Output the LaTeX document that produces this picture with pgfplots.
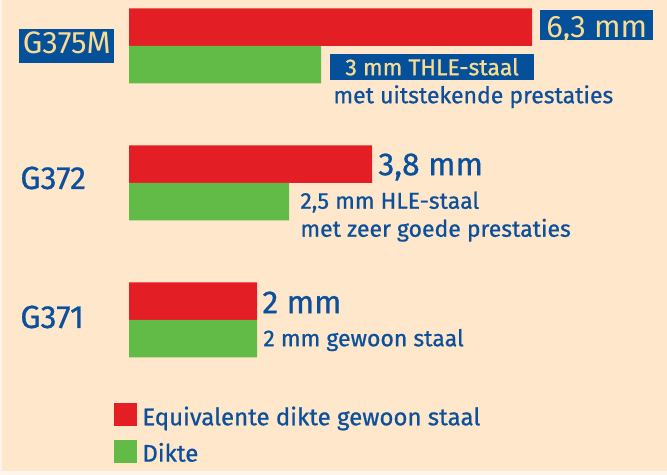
\documentclass[border=0pt]{standalone}
\usepackage{pgfplots}
\pgfplotsset{compat=1.18}
\usepackage{fontspec}
\setmainfont{Fira Sans}
\newfontfamily\medfont{Fira Sans}[FakeBold=0.8]
\definecolor{bgpeach}{RGB}{254,231,203}
\definecolor{edgec}{RGB}{255,245,235}
\definecolor{barred}{RGB}{227,30,36}
\definecolor{bargreen}{RGB}{98,187,70}
\definecolor{txtblue}{RGB}{12,80,155}
\definecolor{boxblue}{RGB}{4,80,155}
\definecolor{boxtxt}{RGB}{250,220,145}
\newcommand\bigf{\fontsize{16}{18}\selectfont}
\newcommand\boxf{\fontsize{15.5}{18}\selectfont}
\newcommand\labf{\fontsize{16}{18}\selectfont}
\newcommand\smallf{\medfont\fontsize{11.5}{14}\selectfont}
\begin{document}
\begin{tikzpicture}
\begin{axis}[
  x=32pt, y=68.5pt,
  xmin=-2.015625, xmax=8.40625,
  ymin=-1.13139, ymax=2.33577,
  axis line style={draw=none},
  xtick=\empty, ytick=\empty,
  axis background/.style={fill=bgpeach},
  clip=false,
  xbar, bar width=18.75pt,
  legend style={at={(axis cs:-0.234,-0.606)}, anchor=north west, draw=none, fill=none,
    font=\medfont\fontsize{12}{14}\selectfont, text=txtblue, inner sep=0pt, row sep=5.75pt, column sep=2.5pt,
    nodes={inner sep=0pt}},
  legend cell align=left,
  legend image code/.code={\fill[#1] (0pt,-4.5pt) rectangle (11.5pt,7pt);},
]
\addplot[fill=barred, draw=none, bar shift=9.375pt] coordinates {(6.3,2) (3.8,1) (2,0)};
\addplot[fill=bargreen, draw=none, bar shift=-9.375pt] coordinates {(3,2) (2.5,1) (2,0)};
\legend{Equivalente dikte gewoon staal, Dikte}

% category labels
\node[anchor=base west, fill=boxblue, text=boxtxt, inner xsep=1.75pt, inner ysep=0pt,
  text height=12.5pt, text depth=4.5pt, font=\boxf, xshift=9.5pt, yshift=-4pt] at (axis cs:-2.015625,2) {G375M};
\node[anchor=base west, inner sep=0pt, text=txtblue, font=\medfont\labf, xshift=10pt, yshift=-3pt] at (axis cs:-2.015625,1) {G372};
\node[anchor=base west, inner sep=0pt, text=txtblue, font=\medfont\labf, xshift=10pt, yshift=-4pt] at (axis cs:-2.015625,0) {G371};

% red value labels
\node[anchor=base west, fill=boxblue, text=boxtxt, inner xsep=3pt, inner ysep=0pt,
  text height=14pt, text depth=1pt, font=\boxf, xshift=3.9pt, yshift=4.125pt] at (axis cs:6.3,2) {6,3 mm};
\node[anchor=base west, inner sep=0pt, text=txtblue, font=\medfont\bigf, xshift=2.9pt, yshift=3.875pt] at (axis cs:3.8,1) {3,8 mm};
\node[anchor=base west, inner sep=0pt, text=txtblue, font=\medfont\bigf, xshift=2.5pt, yshift=3.375pt] at (axis cs:2,0) {2 mm};

% green labels
\node[anchor=base west, fill=boxblue, text=boxtxt, inner xsep=7.5pt, inner ysep=0pt,
  text height=10.5pt, text depth=2.3pt, font=\smallf, xshift=4.5pt, yshift=-14.625pt] at (axis cs:3,2) {3 mm THLE-staal};
\node[anchor=base west, inner sep=0pt, text=txtblue, font=\smallf, xshift=6pt, yshift=-28.625pt] at (axis cs:3,2) {met uitstekende prestaties};
\node[anchor=base west, inner sep=0pt, text=txtblue, font=\smallf, xshift=5.5pt, yshift=-12.875pt] at (axis cs:2.5,1) {2,5 mm HLE-staal};
\node[anchor=base west, inner sep=0pt, text=txtblue, font=\smallf, xshift=5.5pt, yshift=-26.875pt] at (axis cs:2.5,1) {met zeer goede prestaties};
\node[anchor=base west, inner sep=0pt, text=txtblue, font=\smallf, xshift=3pt, yshift=-13.125pt] at (axis cs:2,0) {2 mm gewoon staal};

% light edge
\fill[edgec] (rel axis cs:0,0) rectangle (rel axis cs:0.003,1);
\fill[edgec] (rel axis cs:0,0) rectangle (rel axis cs:1,0.008);
\end{axis}
\end{tikzpicture}
\end{document}
